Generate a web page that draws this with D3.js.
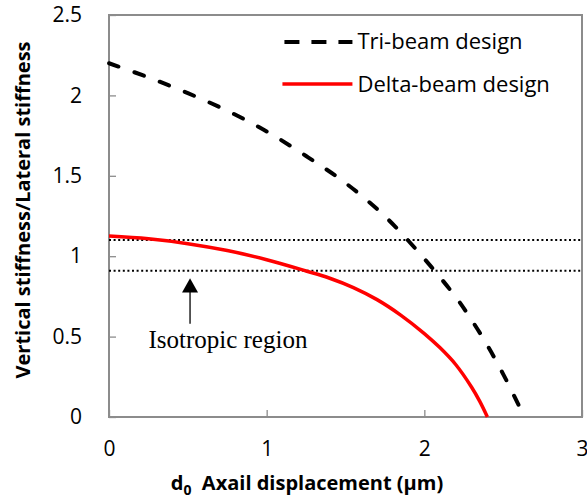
<!DOCTYPE html>
<html>
<head>
<meta charset="utf-8">
<script src="https://cdn.jsdelivr.net/npm/d3@7"></script>
<style>
  body { margin: 0; background: #fff; }
  svg { display: block; }
  .tick text { font-family: "Open Sans", sans-serif; font-size: 21px; fill: #000; }
</style>
</head>
<body>
<svg id="chart" width="587" height="502"></svg>
<script>
// data
var triX = [0, 0.25, 0.5, 0.75, 1.0, 1.25, 1.5, 1.75, 2.0, 2.2, 2.3, 2.4, 2.5, 2.6, 2.635];
var triY = [2.20, 2.112, 2.014, 1.905, 1.776, 1.623, 1.455, 1.248, 0.984, 0.745, 0.603, 0.445, 0.267, 0.07, 0];
var deltaX = [0, 0.25, 0.5, 0.75, 1.0, 1.25, 1.4, 1.55, 1.7, 1.85, 2.0, 2.1, 2.2, 2.3, 2.35, 2.4];
var deltaY = [1.125, 1.108, 1.078, 1.035, 0.978, 0.908, 0.863, 0.805, 0.73, 0.634, 0.519, 0.43, 0.325, 0.185, 0.1, 0];
var isoBounds = [1.1, 0.91];
var xTicks = [0, 1, 2, 3];
var yTicks = [0, 0.5, 1, 1.5, 2, 2.5];
var seriesNames = ["Tri-beam design", "Delta-beam design"];

var svg = d3.select("#chart"),
    margin = {top: 15, right: 5, bottom: 85, left: 109},
    width = +svg.attr("width") - margin.left - margin.right,
    height = +svg.attr("height") - margin.top - margin.bottom,
    g = svg.append("g").attr("transform", "translate(" + margin.left + "," + margin.top + ")");

var x = d3.scaleLinear().domain([0, 3]).range([0, width]);
var y = d3.scaleLinear().domain([0, 2.5]).range([height, 0]);

var line = d3.line()
    .x(function(d) { return x(d[0]); })
    .y(function(d) { return y(d[1]); })
    .curve(d3.curveCatmullRom.alpha(0.5));

var tri = triX.map(function(v, i) { return [v, triY[i]]; });
var delta = deltaX.map(function(v, i) { return [v, deltaY[i]]; });

// axes, ticks pointing inward
var xAxis = g.append("g")
    .attr("transform", "translate(0," + height + ")")
    .call(d3.axisBottom(x).tickValues(xTicks).tickSize(-7).tickPadding(24).tickFormat(d3.format("")));
var yAxis = g.append("g")
    .call(d3.axisLeft(y).tickValues(yTicks).tickSize(-7).tickPadding(27).tickFormat(d3.format("")));
g.selectAll(".domain").remove();
g.selectAll(".tick line").attr("stroke", "#8c8c8c").attr("stroke-width", 1.3);

// frame
g.append("rect")
    .attr("width", width)
    .attr("height", height)
    .attr("fill", "none")
    .attr("stroke", "#8c8c8c")
    .attr("stroke-width", 2);

// isotropic bounds
g.selectAll(".bound")
  .data(isoBounds)
  .enter().append("line")
    .attr("class", "bound")
    .attr("x1", x(0)).attr("x2", x(3))
    .attr("y1", function(d) { return y(d); })
    .attr("y2", function(d) { return y(d); })
    .attr("stroke", "#000")
    .attr("stroke-width", 2)
    .attr("stroke-dasharray", "2,2.6");

g.append("path")
    .datum(delta)
    .attr("fill", "none")
    .attr("stroke", "#ff0000")
    .attr("stroke-width", 3.5)
    .attr("d", line);

g.append("path")
    .datum(tri)
    .attr("fill", "none")
    .attr("stroke", "#000")
    .attr("stroke-width", 4)
    .attr("stroke-linecap", "round")
    .attr("stroke-dasharray", "10,17")
    .attr("d", line);

// arrow + annotation
var ax = x(0.514);
g.append("line")
    .attr("x1", ax).attr("x2", ax)
    .attr("y1", y(0.83)).attr("y2", y(0.58))
    .attr("stroke", "#000").attr("stroke-width", 1.3);
g.append("path")
    .attr("d", "M" + ax + "," + y(0.863) + "L" + (ax - 8) + "," + y(0.775) + "L" + (ax + 8) + "," + y(0.775) + "Z")
    .attr("fill", "#000");
g.append("text")
    .attr("x", x(0.25))
    .attr("y", y(0.432))
    .attr("font-family", "'Liberation Serif', 'Times New Roman', serif")
    .attr("font-size", 25)
    .text("Isotropic region");

// legend
var legend = g.append("g").attr("transform", "translate(" + (x(1.1)) + ",0)");
legend.append("line")
    .attr("x1", 2).attr("x2", 70).attr("y1", 27).attr("y2", 27)
    .attr("stroke", "#000").attr("stroke-width", 4)
    .attr("stroke-dasharray", "15,12");
legend.append("line")
    .attr("x1", 0).attr("x2", 70).attr("y1", 69).attr("y2", 69)
    .attr("stroke", "#ff0000").attr("stroke-width", 3.5);
legend.selectAll(".lab")
  .data(seriesNames)
  .enter().append("text")
    .attr("x", 75)
    .attr("y", function(d, i) { return 34 + i * 43; })
    .attr("font-family", "'Open Sans', sans-serif")
    .attr("font-size", 22)
    .text(function(d) { return d; });

// axis titles
var xt = svg.append("text")
    .attr("x", 307)
    .attr("y", 490)
    .attr("text-anchor", "middle")
    .attr("font-family", "'Open Sans', sans-serif")
    .attr("font-weight", "bold")
    .attr("font-size", 20);
xt.append("tspan").text("d");
xt.append("tspan").attr("font-size", 14).attr("dy", 5).text("0");
xt.append("tspan").attr("dy", -5).text("\u00a0 Axail displacement (\u00b5m)");

svg.append("text")
    .attr("transform", "translate(30," + 210 + ") rotate(-90)")
    .attr("text-anchor", "middle")
    .attr("font-family", "'Open Sans', sans-serif")
    .attr("font-weight", "bold")
    .attr("font-size", 20)
    .text("Vertical stiffness/Lateral stiffness");
</script>
</body>
</html>
